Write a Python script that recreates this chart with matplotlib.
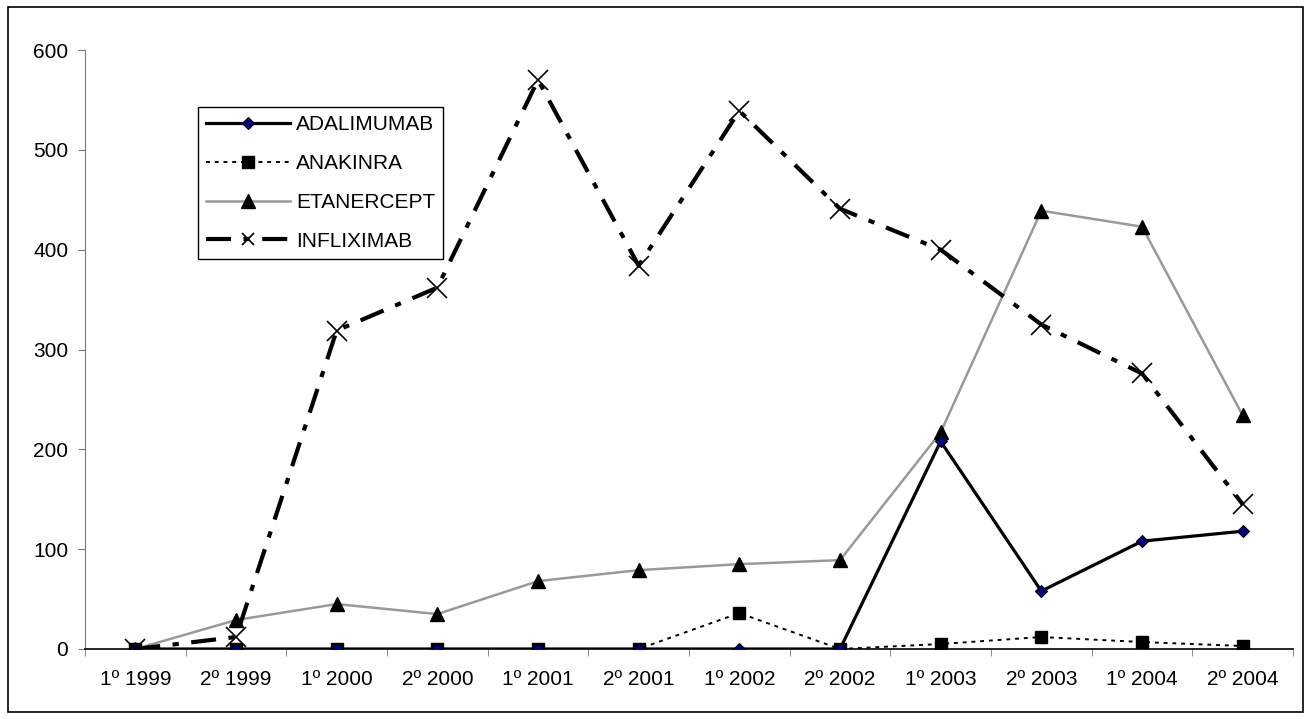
import numpy as np
import matplotlib.pyplot as plt
from matplotlib.patches import Rectangle

plt.rcParams['font.family'] = ['Liberation Sans', 'DejaVu Sans']

categorias = ['1º 1999', '2º 1999', '1º 2000', '2º 2000', '1º 2001', '2º 2001',
              '1º 2002', '2º 2002', '1º 2003', '2º 2003', '1º 2004', '2º 2004']
adalimumab = [0, 0, 0, 0, 0, 0, 0, 0, 208, 58, 108, 118]
anakinra = [0, 0, 0, 0, 0, 0, 36, 0, 5, 12, 7, 3]
etanercept = [0, 29, 45, 35, 68, 79, 85, 89, 217, 439, 423, 234]
infliximab = [0, 12, 319, 362, 570, 384, 539, 441, 400, 325, 276, 145]

x = np.arange(len(categorias))

fig = plt.figure(figsize=(13.1, 7.19), dpi=100)
# outer chart border
fig.patches.append(Rectangle((8 / 1310, 7 / 719), 1295 / 1310, 705 / 719,
                             transform=fig.transFigure, fill=False,
                             edgecolor='black', linewidth=1.2))
ax = fig.add_axes([85 / 1310, 70 / 719, 1208 / 1310, 599 / 719])

ax.plot(x, adalimumab, color='black', lw=2.3, marker='D', markersize=6,
        markerfacecolor='#000080', markeredgecolor='black', markeredgewidth=0.8,
        label='ADALIMUMAB', zorder=4)
ax.plot(x, anakinra, color='black', lw=1.4, linestyle=(0, (2, 2.5)), marker='s',
        markersize=9, markerfacecolor='black', label='ANAKINRA', zorder=3)
ax.plot(x, etanercept, color='#999999', lw=1.8, marker='^', markersize=10,
        markerfacecolor='black', markeredgecolor='black', label='ETANERCEPT', zorder=2)
ax.plot(x, infliximab, color='black', lw=3, linestyle=(0, (6, 3, 1.5, 3)), marker='x',
        markersize=14, markeredgewidth=1.2, label='INFLIXIMAB', zorder=5)

ax.set_xlim(-0.5, len(categorias) - 0.5)
ax.set_ylim(0, 600)
ax.set_yticks(range(0, 601, 100))
ax.set_xticks(x)
ax.set_xticklabels(categorias)
ax.set_xticks(np.arange(-0.5, len(categorias), 1), minor=True)
ax.tick_params(axis='x', which='major', length=0, pad=15, labelsize=15)
ax.tick_params(axis='x', which='minor', length=5, direction='out', color='#777777')
ax.tick_params(axis='y', length=5, direction='out', color='#777777', labelsize=15, pad=7)

for s in ['top', 'right']:
    ax.spines[s].set_visible(False)
ax.spines['left'].set_color('#777777')
ax.spines['bottom'].set_color('black')
ax.spines['bottom'].set_linewidth(1.2)

leg = ax.legend(loc='upper left', bbox_to_anchor=(0.0935, 0.905), borderaxespad=0,
                fancybox=False, edgecolor='black', fontsize=15, handlelength=4,
                handletextpad=0.3, labelspacing=0.95, borderpad=0.4, framealpha=1)
leg.get_frame().set_linewidth(1)
# smaller cross in the legend, as in the original
leg.legend_handles[3].set_markersize(9)

fig.savefig('out.png', dpi=100)
